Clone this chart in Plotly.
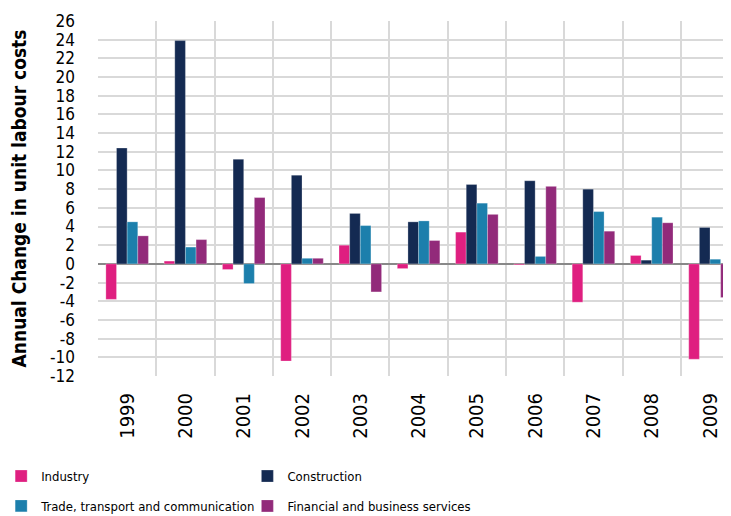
import plotly.graph_objects as go

years = ["1999", "2000", "2001", "2002", "2003", "2004", "2005", "2006", "2007", "2008", "2009"]
industry = [-3.8, 0.3, -0.6, -10.4, 2.0, -0.5, 3.4, -0.1, -4.1, 0.9, -10.2]
construction = [12.4, 23.9, 11.2, 9.5, 5.4, 4.5, 8.5, 8.9, 8.0, 0.4, 3.9]
trade = [4.5, 1.8, -2.1, 0.6, 4.1, 4.6, 6.5, 0.8, 5.6, 5.0, 0.5]
financial = [3.0, 2.6, 7.1, 0.6, -3.0, 2.5, 5.3, 8.3, 3.5, 4.4, -3.6]
y_ticks = list(range(-12, 27, 2))

series = [
    ("Industry", industry, "#DF1F80", "legend"),
    ("Construction", construction, "#142A52", "legend2"),
    ("Trade, transport and communication", trade, "#1C7FAC", "legend3"),
    ("Financial and business services", financial, "#922A7A", "legend4"),
]

FONT = "Tahoma, 'DejaVu Sans Condensed', Roboto, sans-serif"

fig = go.Figure()
for name, vals, col, lg in series:
    fig.add_trace(go.Bar(
        x=years, y=vals, name=name, legend=lg,
        marker=dict(color=col, line=dict(color="rgba(255,255,255,0.5)", width=0.5)),
    ))

legend_common = dict(
    orientation="h", xanchor="left", yanchor="middle",
    font=dict(size=13, family=FONT, color="#000000"),
    itemwidth=30, bgcolor="rgba(0,0,0,0)",
)

fig.update_layout(
    width=723, height=508,
    margin=dict(l=90, r=0, t=13, b=140, autoexpand=False),
    paper_bgcolor="white", plot_bgcolor="white",
    barmode="group", bargap=0.27, bargroupgap=0,
    font=dict(family=FONT, color="#000000", size=18),
    showlegend=True,
    legend=dict(x=-0.153, y=-0.282, **legend_common),
    legend2=dict(x=0.236, y=-0.282, **legend_common),
    legend3=dict(x=-0.153, y=-0.366, **legend_common),
    legend4=dict(x=0.236, y=-0.366, **legend_common),
)

fig.update_xaxes(
    type="category", range=[-0.5, 10.36], automargin=False,
    tickson="boundaries", showgrid=True, gridcolor="#D9D9D9", gridwidth=1.5,
    tickangle=-90, ticks="", ticklabelstandoff=12,
    tickfont=dict(size=20, family=FONT),
    showline=False, zeroline=False,
)
fig.update_yaxes(
    range=[-12, 26], tickvals=y_ticks, ticktext=[str(v) for v in y_ticks],
    automargin=False,
    showgrid=True, gridcolor="#D9D9D9", gridwidth=1.5,
    zeroline=True, zerolinecolor="#888888", zerolinewidth=2,
    tickfont=dict(size=17, family=FONT), ticklabelstandoff=22,
    title=dict(text="<b>Annual Change in unit labour costs</b>", font=dict(size=19, family=FONT), standoff=18),
    showline=False,
)

fig.write_html("out.html")
